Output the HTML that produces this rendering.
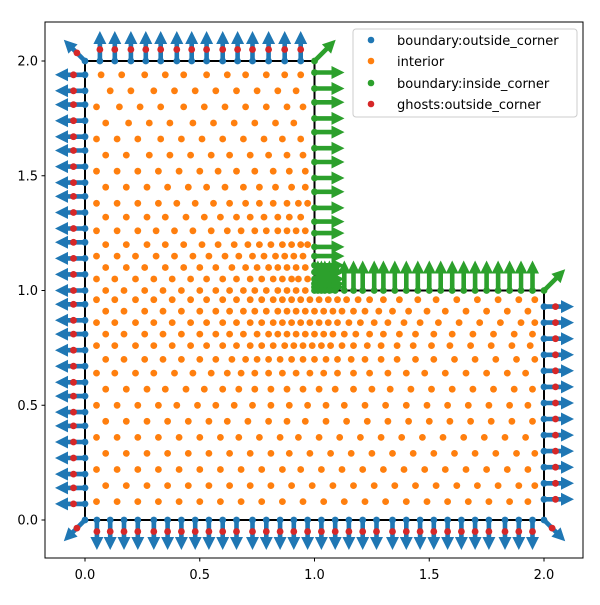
<!DOCTYPE html>
<html><head><meta charset="utf-8"><style>
body{margin:0;background:#fff}
svg text{font-family:"DejaVu Sans","Liberation Sans",sans-serif;font-size:13px;fill:#000}
</style></head><body>
<svg id="c" width="600" height="600" viewBox="0 0 600 600" xmlns="http://www.w3.org/2000/svg">
<rect width="600" height="600" fill="#fff"/>
<g id="marks"></g>
<rect x="45" y="22" width="538" height="536" fill="none" stroke="#000" stroke-width="1"/>
<g id="ticks"></g>
<g>
<rect x="353" y="29" width="224" height="88" rx="3" fill="#fff" fill-opacity="0.8" stroke="#ccc"/>
<circle cx="371" cy="40" r="3.3" fill="#1f77b4"/><text x="397" y="45">boundary:outside_corner</text>
<circle cx="371" cy="61" r="3.3" fill="#ff7f0e"/><text x="397" y="66">interior</text>
<circle cx="371" cy="83" r="3.3" fill="#2ca02c"/><text x="397" y="88">boundary:inside_corner</text>
<circle cx="371" cy="104" r="3.3" fill="#d62728"/><text x="397" y="109">ghosts:outside_corner</text>
</g>
</svg>
<script>
const xTicks=[0,0.5,1,1.5,2];
const yTicks=[0,0.5,1,1.5,2];
const tickLabels=["0.0","0.5","1.0","1.5","2.0"];
// interior rows: [y, xs]
const interiorRows=[
[1.94,[.07,.16,.26,.35,.43,.53,.62,.70,.79,.87,.94]],
[1.87,[.11,.20,.30,.39,.48,.57,.66,.75,.84,.92]],
[1.80,[.05,.15,.24,.33,.43,.52,.61,.70,.79,.88,.95]],
[1.73,[.09,.19,.28,.37,.47,.56,.65,.74,.83,.91]],
[1.66,[.05,.14,.23,.33,.42,.51,.60,.69,.78,.86,.94]],
[1.59,[.09,.18,.28,.37,.46,.55,.63,.72,.80,.88,.95]],
[1.52,[.05,.14,.23,.32,.41,.50,.58,.66,.74,.82,.89,.96]],
[1.45,[.09,.18,.27,.36,.45,.53,.61,.69,.76,.83,.90,.96]],
[1.38,[.05,.14,.23,.32,.40,.48,.56,.63,.70,.76,.82,.88,.93,.97]],
[1.32,[.09,.18,.27,.35,.44,.52,.59,.66,.72,.78,.84,.89,.94]],
[1.26,[.05,.14,.23,.31,.39,.47,.55,.62,.68,.74,.79,.84,.88,.92,.96]],
[1.20,[.09,.18,.27,.35,.43,.51,.58,.65,.71,.76,.81,.86,.90,.94,.97]],
[1.15,[.05,.14,.22,.31,.39,.47,.54,.61,.67,.73,.78,.83,.87,.91,.95]],
[1.10,[.09,.18,.26,.35,.43,.50,.57,.64,.70,.75,.80,.84,.88,.92,.96]],
[1.05,[.05,.13,.22,.30,.38,.46,.53,.60,.66,.72,.77,.82,.86,.90,.93,.97]],
[1.00,[.09,.17,.26,.34,.42,.50,.57,.63,.69,.74,.79,.84,.88,.92,.96]],
[0.96,[.05,.13,.22,.30,.38,.46,.53,.60,.66,.72,.77,.82,.86,.90,.94,.98,1.02,1.06,1.10,1.14,1.19,1.24,1.30,1.37,1.45,1.53,1.62,1.71,1.80,1.89,1.96]],
[0.91,[.09,.17,.26,.34,.42,.50,.57,.63,.69,.74,.79,.84,.88,.92,.96,1.00,1.04,1.08,1.12,1.17,1.22,1.28,1.34,1.41,1.49,1.57,1.66,1.75,1.84,1.93]],
[0.86,[.05,.13,.22,.30,.38,.46,.53,.60,.66,.72,.77,.82,.86,.90,.94,.98,1.02,1.06,1.10,1.15,1.20,1.26,1.32,1.39,1.46,1.54,1.63,1.72,1.81,1.90,1.96]],
[0.81,[.09,.17,.26,.34,.42,.50,.57,.63,.69,.75,.80,.84,.88,.92,.96,1.00,1.04,1.08,1.13,1.18,1.24,1.30,1.37,1.44,1.52,1.60,1.69,1.78,1.87,1.95]],
[0.76,[.05,.13,.22,.30,.38,.46,.53,.60,.66,.72,.77,.82,.87,.91,.95,.99,1.03,1.07,1.12,1.17,1.23,1.29,1.36,1.43,1.51,1.59,1.68,1.77,1.86,1.94]],
[0.70,[.09,.17,.26,.34,.42,.50,.57,.64,.70,.75,.80,.85,.90,.95,1.00,1.05,1.10,1.16,1.22,1.29,1.36,1.44,1.52,1.61,1.70,1.79,1.88,1.96]],
[0.64,[.05,.13,.22,.30,.39,.47,.55,.62,.68,.74,.80,.86,.92,.98,1.04,1.10,1.17,1.24,1.32,1.40,1.48,1.57,1.66,1.75,1.84,1.92]],
[0.57,[.09,.18,.27,.35,.44,.52,.60,.67,.74,.81,.88,.95,1.02,1.09,1.17,1.25,1.33,1.42,1.51,1.60,1.69,1.78,1.87,1.95]],
[0.50,[.05,.14,.23,.32,.40,.49,.57,.65,.73,.81,.89,.97,1.05,1.13,1.22,1.31,1.40,1.49,1.58,1.67,1.76,1.85,1.93]],
[0.43,[.09,.18,.27,.36,.45,.54,.62,.71,.80,.88,.96,1.05,1.14,1.23,1.32,1.41,1.50,1.59,1.68,1.77,1.86,1.95]],
[0.36,[.05,.14,.23,.32,.41,.50,.59,.67,.76,.85,.93,1.02,1.11,1.20,1.29,1.38,1.47,1.56,1.65,1.74,1.83,1.92]],
[0.29,[.09,.18,.27,.36,.45,.54,.63,.72,.81,.89,.98,1.07,1.16,1.25,1.34,1.43,1.52,1.61,1.70,1.79,1.88,1.96]],
[0.22,[.05,.14,.23,.32,.41,.50,.59,.68,.77,.86,.94,1.03,1.12,1.21,1.30,1.39,1.48,1.57,1.66,1.75,1.84,1.93]],
[0.15,[.09,.18,.27,.36,.45,.54,.63,.72,.81,.90,.99,1.08,1.17,1.26,1.35,1.44,1.53,1.62,1.71,1.80,1.89,1.96]],
[0.08,[.05,.14,.23,.32,.41,.50,.59,.68,.77,.86,.95,1.04,1.13,1.22,1.31,1.40,1.49,1.58,1.67,1.76,1.85,1.93]]
];
// outer boundary positions
const topXs=[.065,.13,.2,.265,.33,.4,.465,.53,.6,.665,.73,.8,.87,.94];
const leftYs=[1.94,1.87,1.81,1.74,1.67,1.61,1.54,1.47,1.41,1.34,1.27,1.21,1.14,1.07,1.0,.94,.87,.81,.74,.67,.6,.54,.47,.41,.34,.27,.2,.14,.07];
const bottomXs=[.052,.11,.17,.23,.3,.36,.42,.48,.54,.6,.66,.73,.79,.85,.91,.97,1.03,1.09,1.15,1.21,1.27,1.34,1.4,1.46,1.52,1.58,1.64,1.7,1.76,1.83,1.89,1.95];
const rightYs=[.93,.86,.79,.72,.65,.58,.51,.44,.37,.3,.23,.16,.09];
// inside-corner boundary positions
const innerVertYs=[1.95,1.88,1.82,1.75,1.69,1.62,1.56,1.49,1.43,1.36,1.30,1.25,1.19,1.15,1.11,1.08,1.05,1.03,1.015];
const innerHorzXs=[1.015,1.03,1.045,1.065,1.09,1.13,1.17,1.21,1.26,1.30,1.35,1.40,1.45,1.50,1.55,1.60,1.65,1.70,1.75,1.80,1.85,1.90,1.95];

const sx=v=>85+v*229.5, sy=v=>520-v*229.5;
const NS="http://www.w3.org/2000/svg";
const marks=document.getElementById('marks'), tk=document.getElementById('ticks');
function mk(tag,attrs,parent){const e=document.createElementNS(NS,tag);for(const k in attrs)e.setAttribute(k,attrs[k]);(parent||marks).appendChild(e);return e;}

xTicks.forEach((t,i)=>{
  const l=mk('line',{x1:sx(t),x2:sx(t),y1:558,y2:561.5,stroke:'#000'},tk);
  
  
  const tx=mk('text',{x:sx(t),y:579,'text-anchor':'middle'},tk);tx.textContent=tickLabels[i];
  
  
});
yTicks.forEach((t,i)=>{
  const l=mk('line',{x1:41.5,x2:45,y1:sy(t),y2:sy(t),stroke:'#000'},tk);
  
  
  const tx=mk('text',{x:38,y:sy(t)+4.5,'text-anchor':'end'},tk);tx.textContent=tickLabels[i];
  
  
});

const outline=mk('polyline',{points:[[0,0],[2,0],[2,1],[1,1],[1,2],[0,2],[0,0]].map(p=>sx(p[0])+','+sy(p[1])).join(' '),fill:'none',stroke:'#000','stroke-width':2});



const outer=[], inner=[];
topXs.forEach(x=>outer.push([x,2,0,1]));
leftYs.forEach(y=>outer.push([0,y,-1,0]));
bottomXs.forEach(x=>outer.push([x,0,0,-1]));
rightYs.forEach(y=>outer.push([2,y,1,0]));
const r2=Math.SQRT1_2;
outer.push([0,2,-r2,r2],[0,0,-r2,-r2],[2,0,r2,-r2]);
innerVertYs.forEach(y=>inner.push([1,y,1,0]));
innerHorzXs.forEach(x=>inner.push([x,1,0,1]));
inner.push([1,2,r2,r2],[2,1,r2,r2],[1,1,r2,r2]);

function arrow(p,col,name){
  const x0=sx(p[0]),y0=sy(p[1]),dx=p[2],dy=-p[3],px=-dy,py=dx;
  const L=30,hl=13,sw=2.3,hw=6.5;
  const b=L-hl;
  const pts=[[0,-sw],[b,-sw],[b,-hw],[L,0],[b,hw],[b,sw],[0,sw]].map(([a,c])=>(x0+dx*a+px*c).toFixed(1)+','+(y0+dy*a+py*c).toFixed(1));
  const e=mk('polygon',{points:pts.join(' '),fill:col});
  
  
}
outer.forEach(p=>arrow(p,'#1f77b4','normal-arrow-outside'));
inner.forEach(p=>arrow(p,'#2ca02c','normal-arrow-inside'));

function dot(x,y,col,name){
  const c=mk('circle',{cx:sx(x).toFixed(1),cy:sy(y).toFixed(1),r:3.4,fill:col});
  
  
}
outer.forEach(p=>dot(p[0],p[1],'#1f77b4','boundary-outside-point'));
interiorRows.forEach(([y,xs])=>xs.forEach(x=>dot(x,y,'#ff7f0e','interior-point')));
inner.forEach(p=>dot(p[0],p[1],'#2ca02c','boundary-inside-point'));
outer.forEach(p=>dot(p[0]+p[2]*0.05,p[1]+p[3]*0.05,'#d62728','ghost-point'));
</script>
</body></html>
